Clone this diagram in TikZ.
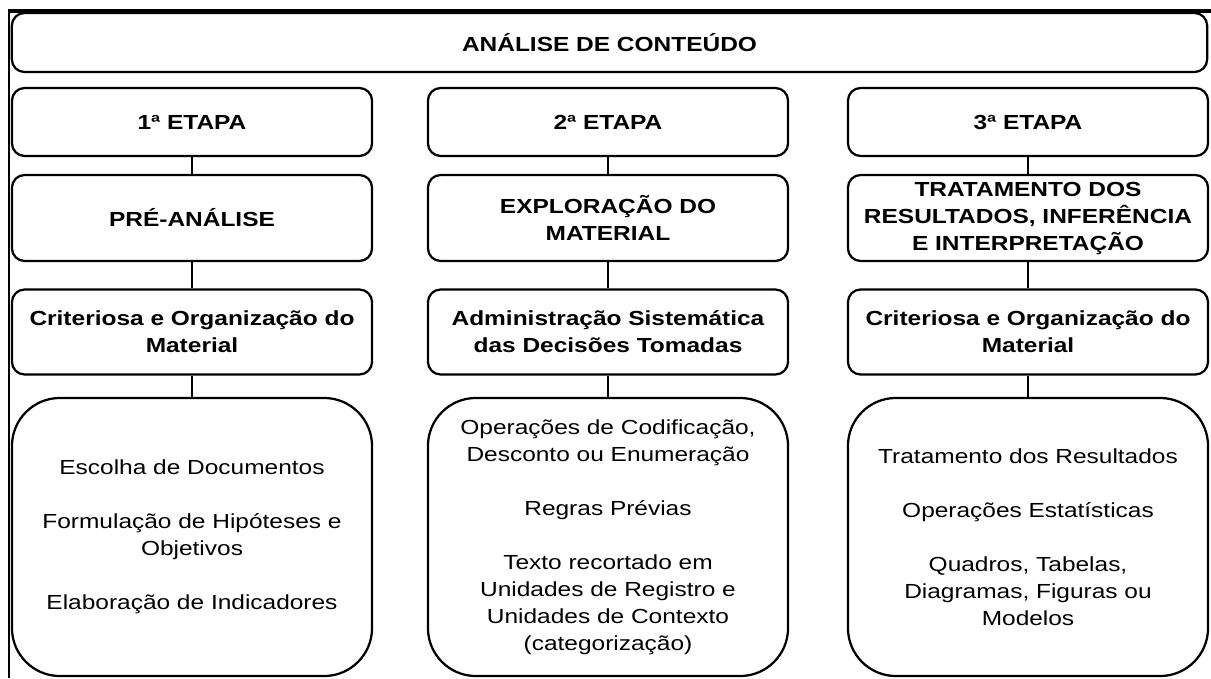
\documentclass[tikz,border=0pt]{standalone}
\usepackage{fontspec}
\setmainfont[FakeStretch=1.2]{Liberation Sans}
\tikzset{
  caixa/.style={draw, line width=1.6pt, rounded corners=9pt, minimum width=9cm,
    inner sep=0pt, align=center, font=\bfseries\fontsize{14.5}{19.2}\selectfont},
  itens/.style={caixa, rounded corners=1.2cm, minimum height=6.95cm,
    font=\fontsize{14.5}{19.2}\selectfont},
}
\begin{document}
\begin{tikzpicture}[x=0.025cm,y=-0.025cm]
  \useasboundingbox (0,0) rectangle (1211,678);
  % moldura
  \draw[line width=2.6pt] (8,11) -- (1211,11);
  \draw[line width=1.2pt] (9,11) -- (9,678);
  \node[caixa, minimum width=29.875cm, minimum height=1.475cm] (titulo) at (609.5,42.5) {ANÁLISE DE CONTEÚDO};
  % etapas
  \draw
    (192,122) node[caixa, minimum height=1.7cm] (e1) {1ª ETAPA}
    (608,122) node[caixa, minimum height=1.7cm] (e2) {2ª ETAPA}
    (1028,122) node[caixa, minimum height=1.7cm] (e3) {3ª ETAPA};
  \draw
    (192,218) node[caixa, minimum height=2.15cm] (f1) {PRÉ-ANÁLISE}
    (608,218) node[caixa, minimum height=2.15cm] (f2) {EXPLORAÇÃO DO\\MATERIAL}
    (1028,218) node[caixa, minimum height=2.15cm] (f3) {TRATAMENTO DOS\\RESULTADOS, INFERÊNCIA\\E INTERPRETAÇÃO};
  \draw
    (192,332) node[caixa, minimum height=2.125cm] (c1) {Criteriosa e Organização do\\Material}
    (608,332) node[caixa, minimum height=2.125cm] (c2) {Administração Sistemática\\das Decisões Tomadas}
    (1028,332) node[caixa, minimum height=2.125cm] (c3) {Criteriosa e Organização do\\Material};
  \draw
    (192,537) node[itens] (i1) {Escolha de Documentos\\[19.2pt]
      Formulação de Hipóteses e\\Objetivos\\[19.2pt]
      Elaboração de Indicadores}
    (608,537) node[itens] (i2) {Operações de Codificação,\\Desconto ou Enumeração\\[19.2pt]
      Regras Prévias\\[19.2pt]
      Texto recortado em\\Unidades de Registro e\\Unidades de Contexto\\(categorização)}
    (1028,537) node[itens] (i3) {Tratamento dos Resultados\\[19.2pt]
      Operações Estatísticas\\[19.2pt]
      Quadros, Tabelas,\\Diagramas, Figuras ou\\Modelos};
  \begin{scope}[line width=1.3pt]
    \foreach \n in {1,2,3} {
      \draw (e\n) to (f\n);
      \draw (f\n) to (c\n);
      \draw (c\n) to (i\n);
    }
  \end{scope}
\end{tikzpicture}
\end{document}
